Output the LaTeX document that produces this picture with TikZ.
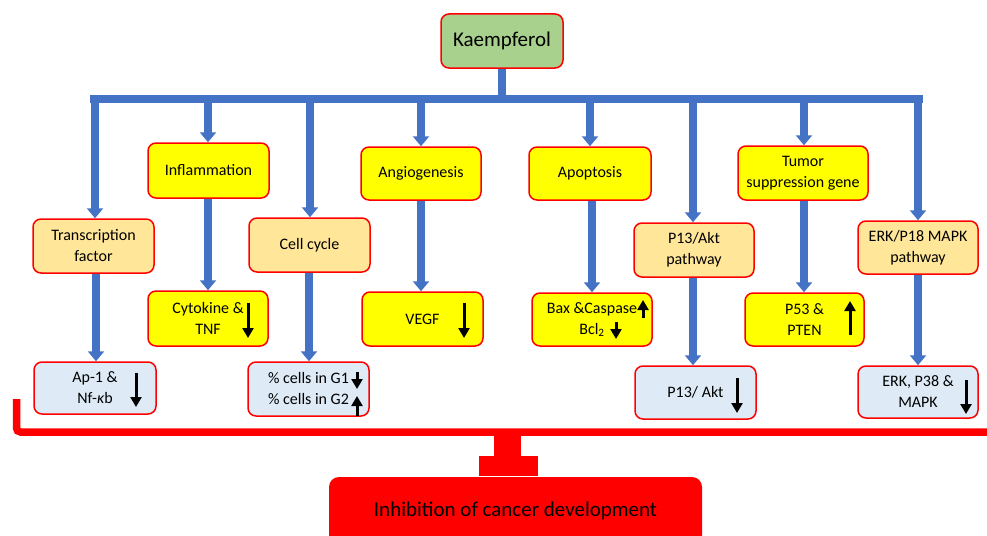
\documentclass[tikz,border=0pt]{standalone}
\usepackage{fontspec}
\setmainfont{Carlito}
\usetikzlibrary{arrows.meta}
\definecolor{kgreen}{HTML}{A9D18E}
\definecolor{byellow}{HTML}{FFFF00}
\definecolor{lorange}{HTML}{FFE699}
\definecolor{lblue}{HTML}{DEEBF7}
\definecolor{bblue}{HTML}{4472C4}
\definecolor{rred}{HTML}{FF0000}
\begin{document}
\begin{tikzpicture}[x=1pt,y=-1pt,
  box/.style={draw=rred, line width=1.5pt, rounded corners=8pt, minimum width=121pt, minimum height=54pt, align=center, font=\fontsize{16}{21}\selectfont, inner sep=0pt},
  ybox/.style={box, fill=byellow},
  obox/.style={box, fill=lorange},
  lbox/.style={box, fill=lblue},
  bline/.style={draw=bblue, line width=7.5pt},
  barrow/.style={draw=bblue, line width=8pt, -{Triangle[width=16pt,length=10pt]}},
  darrow/.style={draw=black, line width=3pt, -{Triangle[width=11pt,length=10pt]}},
  redline/.style={draw=rred, line width=7.5pt},
]
\useasboundingbox (0,0) rectangle (987,535);

% top node
\node[box, fill=kgreen, minimum width=122pt, font=\fontsize{21}{25}\selectfont] (k) at (502,41) {Kaempferol};

% first level
\node[obox] (tf) at (93.5,246) {Transcription\\factor};
\node[ybox, minimum height=55pt] (infl) at (208.5,170.5) {Inflammation};
\node[obox] (cc) at (309.5,245) {Cell cycle};
\node[ybox, minimum width=120pt, minimum height=53pt] (ang) at (421,173.5) {Angiogenesis};
\node[ybox, minimum width=122pt, minimum height=53pt] (apo) at (590,173.5) {Apoptosis};
\node[obox, minimum width=120pt] (p13p) at (694,250) {P13/Akt\\pathway};
\node[ybox, minimum width=130pt] (tum) at (803,173) {Tumor\\suppression gene};
\node[obox, minimum width=120pt, minimum height=53pt] (erkp) at (918,247.5) {ERK/P18 MAPK\\pathway};

% second level
\node[ybox, minimum width=120pt, minimum height=55pt] (cyt) at (208,318.5) {Cytokine \&\\TNF};
\node[ybox, minimum height=54pt] (vegf) at (422.5,319) {VEGF};
\node[ybox, minimum width=120pt, minimum height=53pt] (bax) at (592,319.5) {Bax \&Caspase\\Bcl\textsubscript{2}};
\node[ybox, minimum width=119pt, minimum height=53pt] (p53) at (804.5,319.5) {P53 \&\\PTEN};
\node[lbox, minimum width=122pt, minimum height=52pt] (ap1) at (95,388) {Ap-1 \&\\Nf-{\itshape κ}b};
\node[lbox, minimum height=54pt] (gcell) at (308.5,389) {\% cells in G1\\\% cells in G2};
\node[lbox, minimum height=53pt] (p13) at (695.5,392.5) {P13/ Akt};
\node[lbox, minimum width=120pt, minimum height=52pt] (erk) at (918,392) {ERK, P38 \&\\MAPK};

% blue distribution bar
\coordinate (bar) at (502,99);
\coordinate (barL) at (89.5,99);
\coordinate (barR) at (922.5,99);
\draw[bline] (k.south) -- (bar);
\draw[bline] (barL) -- (barR);

\foreach \n/\xx in {tf/95, infl/208, cc/310, ang/421, apo/590, p13p/693, tum/804, erkp/918}{
  \draw[barrow] (\xx,95.5) -- (\xx,0 |- \n.north);
}

% second-level blue arrows
\draw[barrow] (96,0 |- tf.south) -- (96,0 |- ap1.north);
\draw[barrow] (208,0 |- infl.south) -- (208,0 |- cyt.north);
\draw[barrow] (309,0 |- cc.south) -- (309,0 |- gcell.north);
\draw[barrow] (421,0 |- ang.south) -- (421,0 |- vegf.north);
\draw[barrow] (592,0 |- apo.south) -- (592,0 |- bax.north);
\draw[barrow] (693,0 |- p13p.south) -- (693,0 |- p13.north);
\draw[barrow] (804,0 |- tum.south) -- (804,0 |- p53.north);
\draw[barrow] (918,0 |- erkp.south) -- (918,0 |- erk.north);

% black up/down arrows
\draw[darrow] (248,303) -- (248,338);
\draw[darrow] (464,303) -- (464,338);
\draw[darrow] (136,373) -- (136,407);
\draw[darrow] (357,372) -- (357,389);
\draw[darrow] (357,416) -- (357,396);
\draw[darrow] (643,318) -- (643,300);
\draw[darrow] (616,322) -- (616,339);
\draw[darrow] (737,378) -- (737,413);
\draw[darrow] (850,335) -- (850,301);
\draw[darrow] (966,380) -- (966,414);

% red inhibition bracket
\coordinate (rtop) at (16.5,399);
\coordinate (rcorner) at (16.5,432);
\coordinate (rend) at (992,432);
\draw[redline, rounded corners=4pt] (rtop) -- (rcorner) -- (rend);
\node[fill=rred, draw=none, minimum width=59pt, minimum height=20pt, inner sep=0pt] (tbar) at (508.5,466) {};
\coordinate (stemtop) at (507.5,432);
\draw[draw=rred, line width=27pt] (stemtop) -- (stemtop |- tbar.north);
\node[fill=rred, draw=none, rounded corners=10pt, minimum width=373pt, minimum height=68pt, inner sep=0pt, font=\fontsize{21}{25}\selectfont] (inh) at (515.5,511) {Inhibition of cancer development};
\end{tikzpicture}
\end{document}
